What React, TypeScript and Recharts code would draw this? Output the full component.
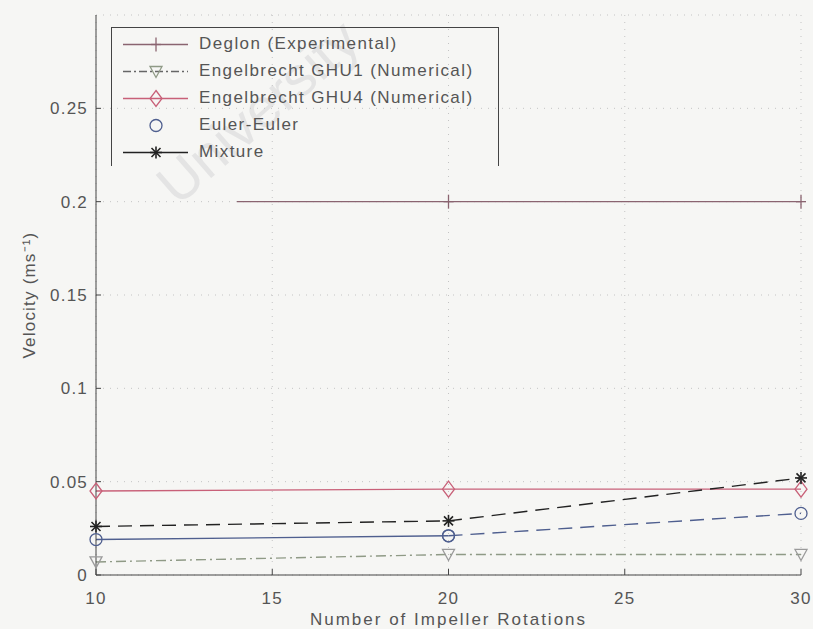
import { LineChart, Line, XAxis, YAxis, CartesianGrid, Legend } from "recharts";

// rotations where the numerical / mixture runs were sampled
const rotations = [10, 20, 30];
// experimental line starts a bit later
const deglonX = [14, 20, 30];
const deglonY = [0.2, 0.2, 0.2];
const ghu1Y = [0.007, 0.011, 0.011];
const ghu4Y = [0.045, 0.046, 0.046];
const eulerY = [0.019, 0.021, 0.033];
const mixtureY = [0.026, 0.029, 0.052];

const xTicks = [10, 15, 20, 25, 30];
const yTicks = [0, 0.05, 0.1, 0.15, 0.2, 0.25];

const legendNames = [
  "Deglon (Experimental)",
  "Engelbrecht GHU1 (Numerical)",
  "Engelbrecht GHU4 (Numerical)",
  "Euler-Euler",
  "Mixture",
];

const pts = (xs: number[], ys: number[]) => xs.map((x, i) => ({ x, y: ys[i] }));

const deglon = pts(deglonX, deglonY);
const ghu1 = pts(rotations, ghu1Y);
const ghu4 = pts(rotations, ghu4Y);
const eulerSolid = pts(rotations.slice(0, 2), eulerY.slice(0, 2));
const eulerDashed = pts(rotations.slice(1), eulerY.slice(1));
const mixture = pts(rotations, mixtureY);

const C = {
  deglon: "#8a6470",
  ghu1: "#8f9a86",
  ghu4: "#c86078",
  euler: "#4f5f8f",
  mix: "#222",
  text: "#555",
};

const font = "'Liberation Sans', Arial, sans-serif";

function Plus({ cx, cy, color }: any) {
  return (
    <g stroke={color} strokeWidth={1.3}>
      <line x1={cx} y1={cy - 7} x2={cx} y2={cy + 7} />
      <line x1={cx - 5} y1={cy} x2={cx + 5} y2={cy} />
    </g>
  );
}
function TriDown({ cx, cy, color }: any) {
  return (
    <polygon
      points={`${cx - 6},${cy - 5} ${cx + 6},${cy - 5} ${cx},${cy + 6}`}
      fill="none"
      stroke={color}
      strokeWidth={1.3}
    />
  );
}
function Diamond({ cx, cy, color }: any) {
  return (
    <polygon
      points={`${cx},${cy - 8} ${cx + 6},${cy} ${cx},${cy + 8} ${cx - 6},${cy}`}
      fill="none"
      stroke={color}
      strokeWidth={1.3}
    />
  );
}
function Ring({ cx, cy, color }: any) {
  return <circle cx={cx} cy={cy} r={6} fill="none" stroke={color} strokeWidth={1.3} />;
}
function Star({ cx, cy, color }: any) {
  const d = 4.5;
  return (
    <g stroke={color} strokeWidth={1.6}>
      <line x1={cx} y1={cy - 6} x2={cx} y2={cy + 6} />
      <line x1={cx - 6} y1={cy} x2={cx + 6} y2={cy} />
      <line x1={cx - d} y1={cy - d} x2={cx + d} y2={cy + d} />
      <line x1={cx - d} y1={cy + d} x2={cx + d} y2={cy - d} />
    </g>
  );
}

const dot = (Shape: any, color: string, skipFirst = false) => (p: any) =>
  skipFirst && p.index === 0 ? (
    <g key={p.index} />
  ) : (
    <Shape key={p.index} cx={p.cx} cy={p.cy} color={color} />
  );

function LegendBox() {
  const samples = [
    { line: C.deglon, dash: undefined, Shape: Plus, mc: C.deglon },
    { line: "#666", dash: "8 3 2 3", Shape: TriDown, mc: C.ghu1 },
    { line: C.ghu4, dash: undefined, Shape: Diamond, mc: C.ghu4 },
    { line: null, dash: undefined, Shape: Ring, mc: C.euler },
    { line: C.mix, dash: undefined, Shape: Star, mc: C.mix },
  ];
  return (
    <div
      style={{
        width: 386,
        height: 138,
        borderLeft: "1px solid #444",
        borderRight: "1px solid #444",
        borderTop: "1px solid #444",
        fontFamily: font,
        fontSize: 17,
        letterSpacing: 1.4,
        color: C.text,
        position: "relative",
      }}
    >
      {samples.map((s, i) => (
        <div key={i} style={{ position: "absolute", left: 0, top: 3 + i * 27, height: 27, width: 386 }}>
          <svg width={80} height={27} style={{ position: "absolute", left: 8, top: 0 }}>
            {s.line && (
              <line x1={3} y1={13.5} x2={68} y2={13.5} stroke={s.line} strokeWidth={1.3} strokeDasharray={s.dash} />
            )}
            <s.Shape cx={36} cy={13.5} color={s.mc} />
          </svg>
          <span style={{ position: "absolute", left: 87, top: 3, whiteSpace: "nowrap" }}>{legendNames[i]}</span>
        </div>
      ))}
    </div>
  );
}

export default function App() {
  const tick = { fill: C.text, fontSize: 17, fontFamily: font, letterSpacing: 1.2 };
  return (
    <div style={{ position: "absolute", left: 0, top: 0, width: 813, height: 629, background: "#f6f6f4", overflow: "hidden" }}>
      <div
        style={{
          position: "absolute",
          left: 258,
          top: 112,
          transform: "translate(-50%, -50%) rotate(-41deg)",
          fontFamily: font,
          fontSize: 56,
          lineHeight: "60px",
          color: "#e4e4e4",
          whiteSpace: "nowrap",
        }}
      >
        University
      </div>
      <div style={{ position: "absolute", left: 0, top: 0 }}>
        <LineChart width={813} height={629} margin={{ top: 15, right: 12, left: 0, bottom: 0 }}>
          <CartesianGrid stroke="#c4c4c4" strokeDasharray="1 6" />
          <XAxis
            dataKey="x"
            type="number"
            domain={[10, 30]}
            ticks={xTicks}
            height={54}
            tickSize={-6}
            tickMargin={23}
            tick={tick}
            stroke="#444"
            allowDuplicatedCategory={false}
            label={{
              value: "Number of Impeller Rotations",
              position: "insideBottom",
              offset: 4,
              style: { fill: C.text, fontSize: 17, fontFamily: font, letterSpacing: 2 },
            }}
          />
          <YAxis
            type="number"
            domain={[0, 0.3]}
            ticks={yTicks}
            width={96}
            tickSize={-5}
            tickMargin={13}
            tick={tick}
            stroke="#444"
            tickFormatter={(v: number) => String(v)}
            label={{
              value: "Velocity (ms⁻¹)",
              angle: -90,
              position: "insideLeft",
              offset: 29,
              style: { fill: C.text, fontSize: 17, fontFamily: font, letterSpacing: 1.2, textAnchor: "middle" },
            }}
          />
          <Legend
            verticalAlign="middle"
            align="center"
            content={() => <LegendBox />}
            wrapperStyle={{ position: "absolute", left: 111, top: 27, width: 388, height: 138 }}
          />
          <Line data={deglon} dataKey="y" stroke={C.deglon} strokeWidth={1.4} dot={dot(Plus, C.deglon, true)} isAnimationActive={false} />
          <Line data={ghu1} dataKey="y" stroke={C.ghu1} strokeWidth={1.4} strokeDasharray="10 4 2 4" dot={dot(TriDown, "#9a9a9a")} isAnimationActive={false} />
          <Line data={ghu4} dataKey="y" stroke={C.ghu4} strokeWidth={1.4} dot={dot(Diamond, C.ghu4)} isAnimationActive={false} />
          <Line data={eulerSolid} dataKey="y" stroke={C.euler} strokeWidth={1.4} dot={dot(Ring, C.euler)} isAnimationActive={false} />
          <Line data={eulerDashed} dataKey="y" stroke={C.euler} strokeWidth={1.4} strokeDasharray="14 8" dot={dot(Ring, C.euler)} isAnimationActive={false} />
          <Line data={mixture} dataKey="y" stroke={C.mix} strokeWidth={1.4} strokeDasharray="14 8" dot={dot(Star, C.mix)} isAnimationActive={false} />
        </LineChart>
      </div>
    </div>
  );
}
